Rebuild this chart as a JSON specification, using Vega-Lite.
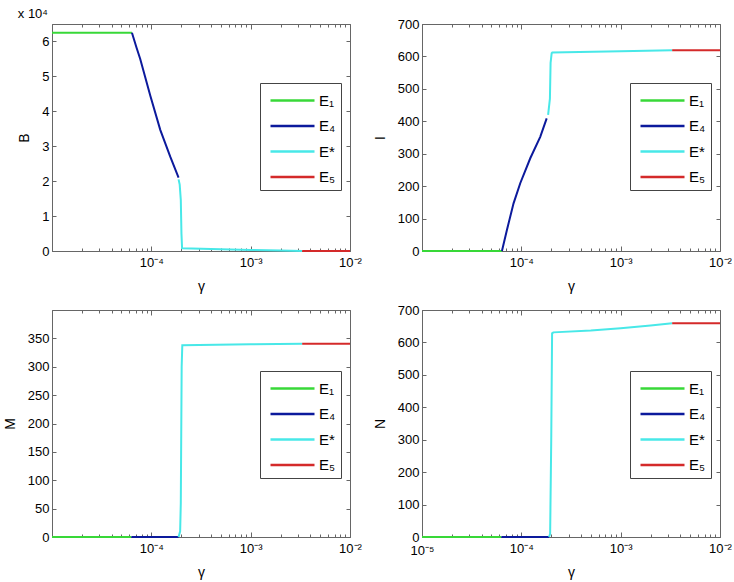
{
  "$schema": "https://vega.github.io/schema/vega-lite/v6.json",
  "background": "white",
  "padding": {"left": 2, "top": 1, "right": 0, "bottom": 0},
  "datasets": {
    "B": [
      {"g": 0.00001, "v": 62500, "s": "E₁"}, {"g": 0.0000638, "v": 62500, "s": "E₁"},
      {"g": 0.0000638, "v": 62500, "s": "E₄"}, {"g": 0.000071, "v": 58200, "s": "E₄"}, {"g": 0.0000773, "v": 55000, "s": "E₄"}, {"g": 0.0000975, "v": 44500, "s": "E₄"}, {"g": 0.000123, "v": 34700, "s": "E₄"}, {"g": 0.000155, "v": 27000, "s": "E₄"}, {"g": 0.000188, "v": 21000, "s": "E₄"},
      {"g": 0.000188, "v": 20500, "s": "E*"}, {"g": 0.000193, "v": 19000, "s": "E*"}, {"g": 0.000198, "v": 14600, "s": "E*"}, {"g": 0.000201, "v": 5000, "s": "E*"}, {"g": 0.000204, "v": 800, "s": "E*"}, {"g": 0.0005, "v": 500, "s": "E*"}, {"g": 0.001, "v": 300, "s": "E*"}, {"g": 0.002, "v": 150, "s": "E*"}, {"g": 0.0033, "v": 30, "s": "E*"},
      {"g": 0.0033, "v": 30, "s": "E₅"}, {"g": 0.01, "v": 20, "s": "E₅"}
    ],
    "I": [
      {"g": 0.00001, "v": 0, "s": "E₁"}, {"g": 0.0000638, "v": 0, "s": "E₁"},
      {"g": 0.0000638, "v": 0, "s": "E₄"}, {"g": 0.0000716, "v": 65, "s": "E₄"}, {"g": 0.0000835, "v": 147, "s": "E₄"}, {"g": 0.0000975, "v": 209, "s": "E₄"}, {"g": 0.000123, "v": 286, "s": "E₄"}, {"g": 0.000155, "v": 352, "s": "E₄"}, {"g": 0.00018, "v": 409, "s": "E₄"},
      {"g": 0.000186, "v": 420, "s": "E*"}, {"g": 0.000194, "v": 470, "s": "E*"}, {"g": 0.000197, "v": 580, "s": "E*"}, {"g": 0.000202, "v": 610, "s": "E*"}, {"g": 0.000205, "v": 612, "s": "E*"}, {"g": 0.001, "v": 616, "s": "E*"}, {"g": 0.0033, "v": 619, "s": "E*"},
      {"g": 0.0033, "v": 619, "s": "E₅"}, {"g": 0.01, "v": 619, "s": "E₅"}
    ],
    "M": [
      {"g": 0.00001, "v": 0, "s": "E₁"}, {"g": 0.000063, "v": 0, "s": "E₁"},
      {"g": 0.000063, "v": 0, "s": "E₄"}, {"g": 0.000188, "v": 0, "s": "E₄"},
      {"g": 0.000188, "v": 0, "s": "E*"}, {"g": 0.000195, "v": 10, "s": "E*"}, {"g": 0.000198, "v": 60, "s": "E*"}, {"g": 0.000202, "v": 300, "s": "E*"}, {"g": 0.000205, "v": 338, "s": "E*"}, {"g": 0.001, "v": 339.5, "s": "E*"}, {"g": 0.0033, "v": 340.5, "s": "E*"},
      {"g": 0.0033, "v": 340.5, "s": "E₅"}, {"g": 0.01, "v": 340.5, "s": "E₅"}
    ],
    "N": [
      {"g": 0.00001, "v": 0, "s": "E₁"}, {"g": 0.000063, "v": 0, "s": "E₁"},
      {"g": 0.000063, "v": 0, "s": "E₄"}, {"g": 0.00019, "v": 0, "s": "E₄"},
      {"g": 0.00019, "v": 0, "s": "E*"}, {"g": 0.000195, "v": 10, "s": "E*"}, {"g": 0.0002, "v": 300, "s": "E*"}, {"g": 0.000204, "v": 628, "s": "E*"}, {"g": 0.00021, "v": 631, "s": "E*"}, {"g": 0.0005, "v": 637, "s": "E*"}, {"g": 0.001, "v": 644, "s": "E*"}, {"g": 0.002, "v": 652, "s": "E*"}, {"g": 0.0033, "v": 659, "s": "E*"},
      {"g": 0.0033, "v": 659, "s": "E₅"}, {"g": 0.01, "v": 659, "s": "E₅"}
    ]
  },
  "config": {
    "font": "Liberation Sans",
    "view": {"stroke": "#666", "strokeWidth": 1},
    "axis": {
      "labelFont": "Liberation Sans", "labelFontSize": 13, "labelColor": "#000",
      "titleFont": "Liberation Sans", "titleFontSize": 14, "titleFontWeight": "normal", "titleColor": "#000",
      "grid": false, "domainColor": "#666", "tickColor": "#666", "tickSize": -4
    },
    "axisX": {"labelPadding": 10},
    "axisY": {"labelPadding": 7},
    "title": {"font": "Liberation Sans", "fontSize": 13, "fontWeight": "normal", "anchor": "start", "offset": 3, "color": "#000"},
    "legend": {
      "orient": "none", "legendX": 208, "legendY": 59, "title": null,
      "symbolType": "M-2,0L2,0", "symbolSize": 484, "symbolStrokeWidth": 2.5, "symbolOffset": 15,
      "labelOffset": 14, "labelFont": "Liberation Sans", "labelFontSize": 15, "labelColor": "#000",
      "rowPadding": 4.5, "padding": 5, "fillColor": "white", "strokeColor": "#444", "cornerRadius": 0
    }
  },
  "columns": 2,
  "spacing": {"row": 9, "column": 10},
  "resolve": {"scale": {"color": "independent"}, "legend": {"color": "independent"}},
  "concat": [
    {
      "width": 298, "height": 227,
      "title": "x 10⁴",
      "data": {"name": "B"},
      "layer": [
        {
          "mark": {"type": "line", "strokeWidth": 2},
          "encoding": {
            "x": {"field": "g", "type": "quantitative", "scale": {"type": "log", "domain": [0.00001, 0.01]},
              "axis": {"title": "γ", "titlePadding": 8, "labelFlush": false, "labelOverlap": false,
                "values": [0.00002,0.00003,0.00004,0.00005,0.00006,0.00007,0.00008,0.00009,0.0001,0.0002,0.0003,0.0004,0.0005,0.0006,0.0007,0.0008,0.0009,0.001,0.002,0.003,0.004,0.005,0.006,0.007,0.008,0.009,0.01],
                "tickSize": {"condition": {"test": "datum.value == 0.0001 || datum.value == 0.001 || datum.value == 0.01", "value": -5}, "value": -3},
                "labelExpr": "datum.value == 0.0001 ? '10⁻⁴' : datum.value == 0.001 ? '10⁻³' : datum.value == 0.01 ? '10⁻²' : ''"}},
            "y": {"field": "v", "type": "quantitative", "scale": {"domain": [0, 65000]},
              "axis": {"title": "B", "titlePadding": 10, "values": [0,10000,20000,30000,40000,50000,60000], "labelExpr": "datum.value / 10000"}},
            "color": {"field": "s", "type": "nominal", "scale": {"domain": ["E₁","E₄","E*","E₅"], "range": ["#38d838","#0c1a9c","#48e8e8","#d42a2a"]}}
          }
        },
        {
          "mark": {"type": "line", "opacity": 0},
          "encoding": {
            "x": {"field": "g", "type": "quantitative", "axis": {"orient": "top", "labels": false, "title": null,
                "values": [0.00002,0.00003,0.00004,0.00005,0.00006,0.00007,0.00008,0.00009,0.0001,0.0002,0.0003,0.0004,0.0005,0.0006,0.0007,0.0008,0.0009,0.001,0.002,0.003,0.004,0.005,0.006,0.007,0.008,0.009],
                "tickSize": {"condition": {"test": "datum.value == 0.0001 || datum.value == 0.001", "value": -5}, "value": -3}}},
            "y": {"field": "v", "type": "quantitative", "axis": {"orient": "right", "labels": false, "title": null, "values": [10000,20000,30000,40000,50000,60000]}}
          }
        }
      ],
      "resolve": {"axis": {"x": "independent", "y": "independent"}}
    },
    {
      "width": 298, "height": 227,
      "title": " ",
      "data": {"name": "I"},
      "layer": [
        {
          "mark": {"type": "line", "strokeWidth": 2},
          "encoding": {
            "x": {"field": "g", "type": "quantitative", "scale": {"type": "log", "domain": [0.00001, 0.01]},
              "axis": {"title": "γ", "titlePadding": 8, "labelFlush": false, "labelOverlap": false,
                "values": [0.00002,0.00003,0.00004,0.00005,0.00006,0.00007,0.00008,0.00009,0.0001,0.0002,0.0003,0.0004,0.0005,0.0006,0.0007,0.0008,0.0009,0.001,0.002,0.003,0.004,0.005,0.006,0.007,0.008,0.009,0.01],
                "tickSize": {"condition": {"test": "datum.value == 0.0001 || datum.value == 0.001 || datum.value == 0.01", "value": -5}, "value": -3},
                "labelExpr": "datum.value == 0.0001 ? '10⁻⁴' : datum.value == 0.001 ? '10⁻³' : datum.value == 0.01 ? '10⁻²' : ''"}},
            "y": {"field": "v", "type": "quantitative", "scale": {"domain": [0, 700]},
              "axis": {"title": "I", "titlePadding": 10, "values": [0,100,200,300,400,500,600,700]}},
            "color": {"field": "s", "type": "nominal", "scale": {"domain": ["E₁","E₄","E*","E₅"], "range": ["#38d838","#0c1a9c","#48e8e8","#d42a2a"]}}
          }
        },
        {
          "mark": {"type": "line", "opacity": 0},
          "encoding": {
            "x": {"field": "g", "type": "quantitative", "axis": {"orient": "top", "labels": false, "title": null,
                "values": [0.00002,0.00003,0.00004,0.00005,0.00006,0.00007,0.00008,0.00009,0.0001,0.0002,0.0003,0.0004,0.0005,0.0006,0.0007,0.0008,0.0009,0.001,0.002,0.003,0.004,0.005,0.006,0.007,0.008,0.009],
                "tickSize": {"condition": {"test": "datum.value == 0.0001 || datum.value == 0.001", "value": -5}, "value": -3}}},
            "y": {"field": "v", "type": "quantitative", "axis": {"orient": "right", "labels": false, "title": null, "values": [100,200,300,400,500,600]}}
          }
        }
      ],
      "resolve": {"axis": {"x": "independent", "y": "independent"}}
    },
    {
      "width": 298, "height": 227,
      "data": {"name": "M"},
      "layer": [
        {
          "mark": {"type": "line", "strokeWidth": 2},
          "encoding": {
            "x": {"field": "g", "type": "quantitative", "scale": {"type": "log", "domain": [0.00001, 0.01]},
              "axis": {"title": "γ", "titlePadding": 8, "labelFlush": false, "labelOverlap": false,
                "values": [0.00002,0.00003,0.00004,0.00005,0.00006,0.00007,0.00008,0.00009,0.0001,0.0002,0.0003,0.0004,0.0005,0.0006,0.0007,0.0008,0.0009,0.001,0.002,0.003,0.004,0.005,0.006,0.007,0.008,0.009,0.01],
                "tickSize": {"condition": {"test": "datum.value == 0.0001 || datum.value == 0.001 || datum.value == 0.01", "value": -5}, "value": -3},
                "labelExpr": "datum.value == 0.0001 ? '10⁻⁴' : datum.value == 0.001 ? '10⁻³' : datum.value == 0.01 ? '10⁻²' : ''"}},
            "y": {"field": "v", "type": "quantitative", "scale": {"domain": [0, 370]},
              "axis": {"title": "M", "titlePadding": 10, "values": [0,50,100,150,200,250,300,350]}},
            "color": {"field": "s", "type": "nominal", "scale": {"domain": ["E₁","E₄","E*","E₅"], "range": ["#38d838","#0c1a9c","#48e8e8","#d42a2a"]}, "legend": {"legendY": 61}}
          }
        },
        {
          "mark": {"type": "line", "opacity": 0},
          "encoding": {
            "x": {"field": "g", "type": "quantitative", "axis": {"orient": "top", "labels": false, "title": null,
                "values": [0.00002,0.00003,0.00004,0.00005,0.00006,0.00007,0.00008,0.00009,0.0001,0.0002,0.0003,0.0004,0.0005,0.0006,0.0007,0.0008,0.0009,0.001,0.002,0.003,0.004,0.005,0.006,0.007,0.008,0.009],
                "tickSize": {"condition": {"test": "datum.value == 0.0001 || datum.value == 0.001", "value": -5}, "value": -3}}},
            "y": {"field": "v", "type": "quantitative", "axis": {"orient": "right", "labels": false, "title": null, "values": [50,100,150,200,250,300,350]}}
          }
        }
      ],
      "resolve": {"axis": {"x": "independent", "y": "independent"}}
    },
    {
      "width": 298, "height": 227,
      "data": {"name": "N"},
      "layer": [
        {
          "mark": {"type": "line", "strokeWidth": 2},
          "encoding": {
            "x": {"field": "g", "type": "quantitative", "scale": {"type": "log", "domain": [0.00001, 0.01]},
              "axis": {"title": "γ", "titlePadding": 8, "labelFlush": false, "labelOverlap": false,
                "values": [0.00001,0.00002,0.00003,0.00004,0.00005,0.00006,0.00007,0.00008,0.00009,0.0001,0.0002,0.0003,0.0004,0.0005,0.0006,0.0007,0.0008,0.0009,0.001,0.002,0.003,0.004,0.005,0.006,0.007,0.008,0.009,0.01],
                "tickSize": {"condition": {"test": "datum.value == 0.0001 || datum.value == 0.001 || datum.value == 0.01", "value": -5}, "value": -3},
                "labelExpr": "datum.value == 0.00001 ? '10⁻⁵' : datum.value == 0.0001 ? '10⁻⁴' : datum.value == 0.001 ? '10⁻³' : datum.value == 0.01 ? '10⁻²' : ''"}},
            "y": {"field": "v", "type": "quantitative", "scale": {"domain": [0, 700]},
              "axis": {"title": "N", "titlePadding": 10, "values": [0,100,200,300,400,500,600,700]}},
            "color": {"field": "s", "type": "nominal", "scale": {"domain": ["E₁","E₄","E*","E₅"], "range": ["#38d838","#0c1a9c","#48e8e8","#d42a2a"]}, "legend": {"legendY": 61}}
          }
        },
        {
          "mark": {"type": "line", "opacity": 0},
          "encoding": {
            "x": {"field": "g", "type": "quantitative", "axis": {"orient": "top", "labels": false, "title": null,
                "values": [0.00002,0.00003,0.00004,0.00005,0.00006,0.00007,0.00008,0.00009,0.0001,0.0002,0.0003,0.0004,0.0005,0.0006,0.0007,0.0008,0.0009,0.001,0.002,0.003,0.004,0.005,0.006,0.007,0.008,0.009],
                "tickSize": {"condition": {"test": "datum.value == 0.0001 || datum.value == 0.001", "value": -5}, "value": -3}}},
            "y": {"field": "v", "type": "quantitative", "axis": {"orient": "right", "labels": false, "title": null, "values": [100,200,300,400,500,600]}}
          }
        }
      ],
      "resolve": {"axis": {"x": "independent", "y": "independent"}}
    }
  ]
}
